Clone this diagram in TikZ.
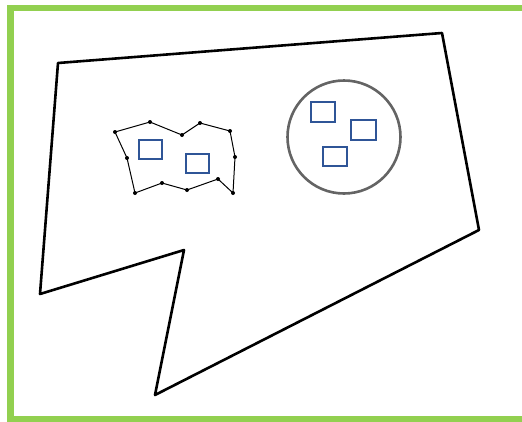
\documentclass[tikz,border=0pt]{standalone}
\definecolor{framegreen}{RGB}{146,208,80}
\definecolor{boxblue}{RGB}{47,85,151}
\definecolor{ringgray}{RGB}{100,100,100}
\tikzset{
  frame/.style={draw=framegreen, line width=6.5pt},
  outline/.style={draw=black, line width=2.6pt, line join=round},
  region/.style={draw=black, line width=1pt, line join=round},
  vtx/.style={fill=black, circle, inner sep=0pt, minimum size=4pt},
  ring/.style={draw=ringgray, line width=2.6pt},
  obj/.style={draw=boxblue, line width=1.3pt}
}
\begin{document}
\begin{tikzpicture}[x=1pt,y=-1pt]
\useasboundingbox (0,0) rectangle (522,421);
\begin{scope}
\clip (0,0) rectangle (522,421);
\draw[frame] (10.5,8) rectangle (540,419.5);
\end{scope}
% outer polygon
\draw[outline] (58,63) -- (442,33) -- (479,230) -- (155,395) -- (184,250) -- (40,294) -- cycle;
% irregular region
\coordinate (a) at (115,132);
\coordinate (b) at (150,122);
\coordinate (c) at (182,135);
\coordinate (d) at (200,123);
\coordinate (e) at (230,131);
\coordinate (f) at (235,157);
\coordinate (g) at (233,193);
\coordinate (h) at (218,179);
\coordinate (i) at (187,190);
\coordinate (j) at (162,183);
\coordinate (k) at (135,193);
\coordinate (l) at (127,158);
\draw[region] (a) -- (b) -- (c) -- (d) -- (e) -- (f) -- (g) -- (h) -- (i) -- (j) -- (k) -- (l) -- cycle;
\foreach \n in {a,b,c,d,e,f,g,h,i,j,k,l} \node[vtx] at (\n) {};
\draw[obj] (139,140) rectangle (162,159);
\draw[obj] (186,154) rectangle (209,173);
% circle region
\draw[ring] (344,137) circle (56.5);
\draw[obj] (311,102) rectangle (335,122);
\draw[obj] (351,120) rectangle (376,140);
\draw[obj] (323,147) rectangle (347,166);
\end{tikzpicture}
\end{document}
